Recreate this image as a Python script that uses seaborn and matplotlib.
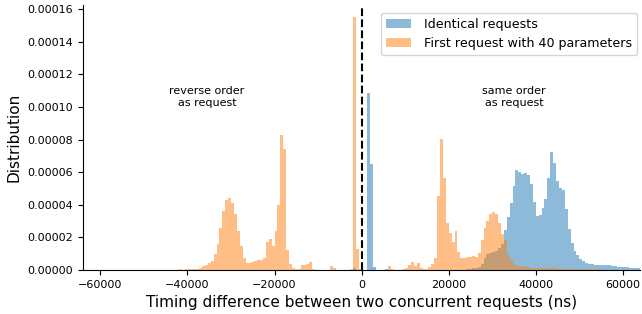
import numpy as np
import pandas as pd
import seaborn as sns
import matplotlib.pyplot as plt

# histogram bins: 192 bins over [-64000, 64000] ns
N_BINS = 192
X_RANGE = (-64000, 64000)

# bar heights, in units of 1e-5, per series,
# given as runs of consecutive bins starting at a bin index
identical_runs = [
    (40, [0.01, 0.01, 0.02, 0.01, 0.01, 0.02, 0.01, 0.01, 0.02, 0.01,
          0.01, 0.02, 0.01, 0.02, 0.01, 0.02, 0.01, 0.01, 0.02, 0.01]),
    (90, [0.02, 0.03, 0.02, 0.1, 0.03, 0.02, 0.0, 0.0, 10.83, 6.5,
          0.2, 0.03, 0.02, 0.03, 0.05]),
    (105, [0.02, 0.02, 0.02, 0.03, 0.02, 0.02, 0.02, 0.03, 0.02, 0.02,
           0.02, 0.02, 0.03, 0.02, 0.02, 0.03, 0.02, 0.02, 0.03, 0.02,
           0.02, 0.03, 0.03, 0.02, 0.03, 0.03, 0.03, 0.04]),
    (133, [0.05, 0.1, 0.15, 0.2, 0.37, 0.74, 0.98, 1.04, 1.1, 1.16,
           1.35, 1.6, 2.45, 3.25, 4.11, 5.15, 6.13, 6.01, 5.89, 5.97,
           5.82, 5.27, 4.19, 3.31, 3.37, 3.78, 4.35, 5.64, 7.23, 6.56,
           5.46, 5.03, 4.9, 3.74, 2.51, 1.66, 1.16, 0.92, 0.67, 0.53,
           0.43, 0.37, 0.37, 0.31, 0.31, 0.31, 0.31, 0.31, 0.31, 0.25,
           0.25, 0.18, 0.18, 0.18, 0.18, 0.12, 0.12, 0.12, 0.12]),
]

params40_runs = [
    (23, [0.02, 0.02, 0.03, 0.02, 0.03, 0.03, 0.02, 0.03, 0.03, 0.03,
          0.04, 0.03, 0.04, 0.05, 0.05, 0.06]),
    (39, [0.08, 0.12, 0.25, 0.33, 0.45, 0.57, 0.98, 1.6, 2.58, 3.62,
          4.29, 4.42, 4.11, 3.43, 2.39, 1.47, 0.76, 0.43, 0.43, 0.49,
          0.55, 0.61, 0.61, 0.76, 1.72, 1.9, 1.47, 2.39, 3.99, 8.28,
          7.42, 1.23, 0.35, 0.15, 0.05, 0.05]),
    (75, [0.31, 0.31, 0.37, 0.49, 0.05, 0.03, 0.03, 0.03, 0.03, 0.03,
          0.22, 0.12, 0.03, 0.03, 0.02, 0.02, 0.02, 0.05, 15.5, 1.27,
          0.05]),
    (96, [0.02, 0.02, 0.02, 0.02, 0.03, 0.03, 0.02, 0.03, 0.03, 0.25,
          0.05, 0.03, 0.03, 0.03, 0.05, 0.1]),
    (112, [0.31, 0.49, 0.25, 0.43, 0.12, 0.05, 0.05, 0.18, 0.37, 0.74,
           4.54, 8.03, 5.64, 2.88, 2.27, 1.72, 2.39, 1.1, 0.74, 0.74,
           0.8, 0.8, 0.86, 0.8, 1.04]),
    (137, [1.84, 2.55, 3.0, 3.45, 3.56, 3.45, 2.9, 2.21, 1.84, 0.92,
           0.61, 0.4, 0.3, 0.25, 0.22, 0.18, 0.16, 0.15, 0.14, 0.14,
           0.13, 0.13, 0.12, 0.12, 0.11, 0.1, 0.09, 0.09, 0.08, 0.08,
           0.07, 0.07, 0.06, 0.06, 0.05, 0.05, 0.05, 0.04, 0.04, 0.04,
           0.04, 0.03, 0.03, 0.03, 0.03, 0.03, 0.02, 0.02, 0.02, 0.02,
           0.02, 0.02, 0.02, 0.02, 0.02]),
]

labels = ['Identical requests', 'First request with 40 parameters']
colors = ['tab:blue', 'tab:orange']


def runs_to_frame(runs, centers):
    xs, ws = [], []
    for start, heights in runs:
        for k, h in enumerate(heights):
            xs.append(centers[start + k])
            ws.append(h * 1e-5)
    return pd.DataFrame({'x': xs, 'w': ws})


edges = np.linspace(X_RANGE[0], X_RANGE[1], N_BINS + 1)
centers = (edges[:-1] + edges[1:]) / 2

fig = plt.figure(figsize=(6.42, 3.14), dpi=100)
ax = fig.add_axes([0.1293, 0.14, 0.868, 0.844])

for runs, lab, c in zip([identical_runs, params40_runs], labels, colors):
    df = runs_to_frame(runs, centers)
    sns.histplot(data=df, x='x', weights='w', bins=N_BINS, binrange=X_RANGE,
                 stat='count', color=c, alpha=0.5, linewidth=0,
                 edgecolor='none', label=lab, ax=ax)

ax.axvline(0, color='k', linestyle='--', linewidth=1.5)
ax.text(-35500, 0.000106, 'reverse order\nas request', ha='center',
        va='center', fontsize=8)
ax.text(35000, 0.000106, 'same order\nas request', ha='center',
        va='center', fontsize=8)

ax.set_xlim(*X_RANGE)
ax.set_ylim(0, 0.0001625)
ax.set_yticks(np.arange(0, 0.000161, 0.00002))
ax.set_ylabel('Distribution', fontsize=11)
ax.set_xlabel('Timing difference between two concurrent requests (ns)', fontsize=11)
ax.tick_params(labelsize=8)
ax.legend(loc='upper right', fontsize=9.1, handletextpad=1.0,
          bbox_to_anchor=(1.006, 0.995))
sns.despine(ax=ax)

plt.savefig('out.png', dpi=100)
